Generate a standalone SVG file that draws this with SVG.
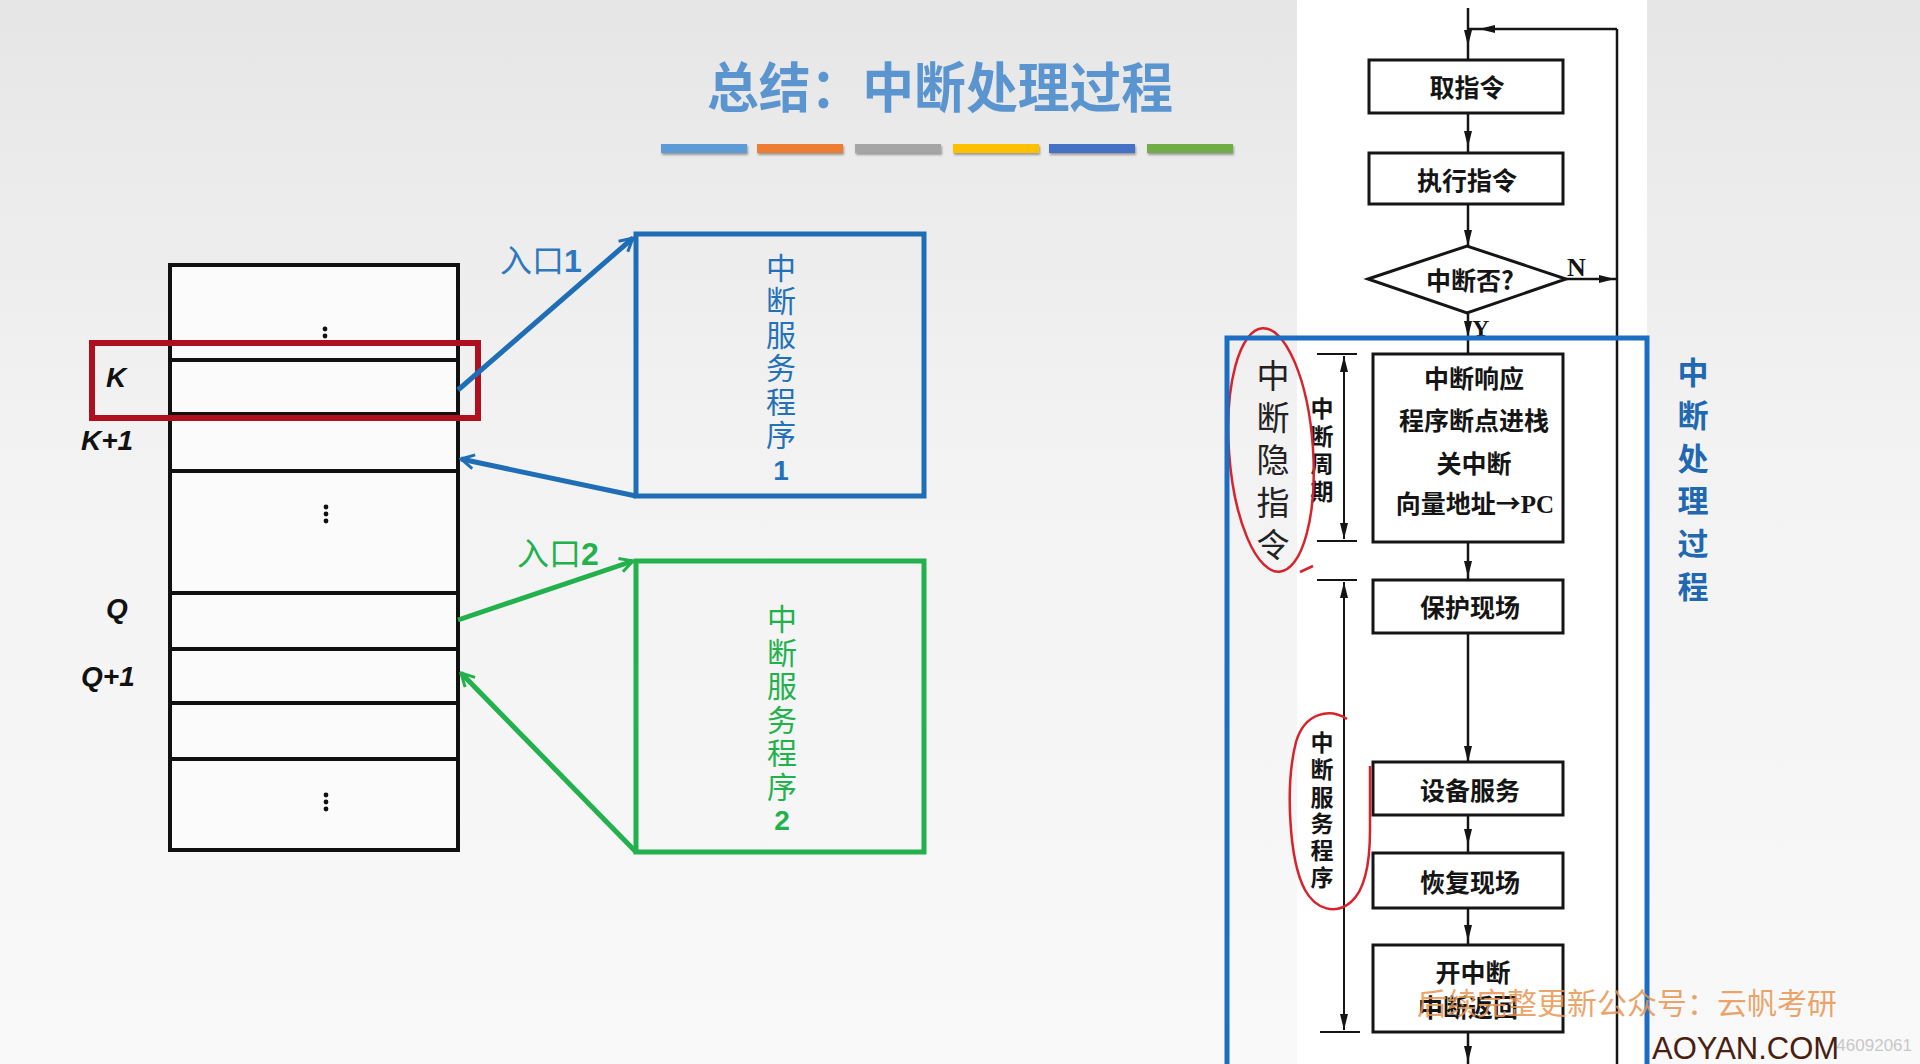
<svg xmlns="http://www.w3.org/2000/svg" width="1920" height="1064" viewBox="0 0 1920 1064">
<defs>
<linearGradient id="bg" x1="0" y1="0" x2="0" y2="1">
<stop offset="0" stop-color="#e6e6e6"/>
<stop offset="0.4" stop-color="#f2f2f2"/>
<stop offset="1" stop-color="#f9f9f9"/>
</linearGradient>
<filter id="sh" x="-10%" y="-60%" width="120%" height="260%"><feDropShadow dx="1" dy="2" stdDeviation="1.2" flood-color="#000" flood-opacity="0.35"/></filter>
<marker id="fa" markerUnits="userSpaceOnUse" viewBox="0 0 16 8" refX="16" refY="4" markerWidth="16" markerHeight="8" orient="auto-start-reverse"><path d="M0,0 L16,4 L0,8 z" fill="#151515"/></marker>
<marker id="ab" markerUnits="userSpaceOnUse" viewBox="0 0 20 20" refX="18" refY="10" markerWidth="20" markerHeight="20" orient="auto"><path d="M5,3 L18,10 L5,17" fill="none" stroke="#1f6eb5" stroke-width="3"/></marker>
<marker id="ag" markerUnits="userSpaceOnUse" viewBox="0 0 20 20" refX="18" refY="10" markerWidth="20" markerHeight="20" orient="auto"><path d="M5,3 L18,10 L5,17" fill="none" stroke="#22b14c" stroke-width="3"/></marker>
</defs>
<style>
.cjk{font-family:"Noto Sans CJK SC","Noto Sans",sans-serif}
.lat{font-family:"Liberation Sans",Arial,sans-serif}
.ser{font-family:"Liberation Serif","Times New Roman",serif}
.stk{fill:none;stroke:#111;stroke-width:4}
.fc{fill:#fff;stroke:#151515;stroke-width:3}
.ft{font-family:"Noto Sans CJK SC",sans-serif;font-weight:700;font-size:25px;fill:#151515;text-anchor:middle}
.fl{stroke:#151515;stroke-width:2.5;fill:none}
.dl{stroke:#151515;stroke-width:2;fill:none}
.lbl{font-family:"Liberation Sans",Arial,sans-serif;font-weight:700;font-style:italic;font-size:28px;fill:#111}
.blue{fill:#2372b9}
.green{fill:#22b14c}
.vt{font-family:"Noto Sans CJK SC",sans-serif;font-size:30px;text-anchor:middle}
.red{fill:none;stroke:#d8222c;stroke-width:2.5}
</style>

<rect x="0" y="0" width="1920" height="1064" fill="url(#bg)"/>
<rect x="1297" y="0" width="350" height="1064" fill="#ffffff"/>

<g id="title">
<text x="707" y="108" class="cjk" font-size="54" font-weight="700" fill="#5b95d0" textLength="466" lengthAdjust="spacingAndGlyphs">总结：中断处理过程</text>
<g filter="url(#sh)">
<rect x="661" y="144" width="86" height="9" fill="#5B9BD5"/>
<rect x="757" y="144" width="86" height="9" fill="#ED7D31"/>
<rect x="855" y="144" width="86" height="9" fill="#A5A5A5"/>
<rect x="953" y="144" width="86" height="9" fill="#FFC000"/>
<rect x="1049" y="144" width="86" height="9" fill="#4472C4"/>
<rect x="1147" y="144" width="86" height="9" fill="#70AD47"/>
</g>
</g>

<g id="memory">
<rect x="170" y="265" width="288" height="585" fill="#fbfbfb" stroke="#111" stroke-width="4"/>
<path class="stk" d="M170,360 H458 M170,414 H458 M170,471 H458 M170,593 H458 M170,649 H458 M170,703 H458 M170,759 H458"/>
<g fill="#111">
<circle cx="325" cy="329" r="2.4"/><circle cx="325" cy="336" r="2.4"/><circle cx="325" cy="343" r="2.4"/>
<circle cx="326" cy="507" r="2.4"/><circle cx="326" cy="514" r="2.4"/><circle cx="326" cy="521" r="2.4"/>
<circle cx="326" cy="795" r="2.4"/><circle cx="326" cy="802" r="2.4"/><circle cx="326" cy="809" r="2.4"/>
</g>
<text x="106" y="387" class="lbl">K</text>
<text x="81" y="450" class="lbl">K+1</text>
<text x="106" y="618" class="lbl">Q</text>
<text x="81" y="686" class="lbl">Q+1</text>
<rect x="92" y="343" width="386" height="75" fill="none" stroke="#ae1020" stroke-width="6"/>
</g>

<g id="isr1">
<rect x="636" y="234" width="288" height="262" fill="none" stroke="#1f6eb5" stroke-width="5"/>
<text class="vt blue">
<tspan x="781" y="279">中</tspan><tspan x="781" y="312">断</tspan><tspan x="781" y="346">服</tspan><tspan x="781" y="379">务</tspan><tspan x="781" y="413">程</tspan><tspan x="781" y="446">序</tspan>
</text>
<text x="781" y="480" class="lat blue" font-size="28" font-weight="700" text-anchor="middle">1</text>
</g>

<g id="isr2">
<rect x="636" y="561" width="288" height="291" fill="none" stroke="#22b14c" stroke-width="5"/>
<text class="vt green">
<tspan x="782" y="630">中</tspan><tspan x="782" y="664">断</tspan><tspan x="782" y="697">服</tspan><tspan x="782" y="731">务</tspan><tspan x="782" y="764">程</tspan><tspan x="782" y="798">序</tspan>
</text>
<text x="782" y="830" class="lat green" font-size="28" font-weight="700" text-anchor="middle">2</text>
</g>

<g id="left-connectors">
<path d="M458,390 L633,238" fill="none" stroke="#1f6eb5" stroke-width="5" marker-end="url(#ab)"/>
<path d="M636,496 L461,459" fill="none" stroke="#1f6eb5" stroke-width="5" marker-end="url(#ab)"/>
<path d="M458,620 L633,561" fill="none" stroke="#22b14c" stroke-width="5" marker-end="url(#ag)"/>
<path d="M636,852 L461,673" fill="none" stroke="#22b14c" stroke-width="5" marker-end="url(#ag)"/>
<text x="500" y="272" class="cjk" font-size="32" fill="#2e78bf">入口<tspan class="lat" font-weight="700">1</tspan></text>
<text x="517" y="565" class="cjk" font-size="32" fill="#22b14c">入口<tspan class="lat" font-weight="700">2</tspan></text>
</g>

<g id="flow-connectors">
<path class="fl" d="M1468,8 L1468,46 L1468,60" marker-mid="url(#fa)"/>
<path class="fl" d="M1617,29 L1479,29 L1468,29" marker-mid="url(#fa)"/>
<path class="fl" d="M1617,29 L1617,1064"/>
<path class="fl" d="M1468,113 L1468,147 L1468,153" marker-mid="url(#fa)"/>
<path class="fl" d="M1468,204 L1468,246" marker-end="url(#fa)"/>
<path class="fl" d="M1566,279 L1615,279 L1617,279" marker-mid="url(#fa)"/>
<path class="fl" d="M1468,313 L1468,337 L1468,354" marker-mid="url(#fa)"/>
<path class="fl" d="M1468,542 L1468,577 L1468,580" marker-mid="url(#fa)"/>
<path class="fl" d="M1468,633 L1468,762" marker-end="url(#fa)"/>
<path class="fl" d="M1468,815 L1468,845 L1468,853" marker-mid="url(#fa)"/>
<path class="fl" d="M1468,908 L1468,941 L1468,945" marker-mid="url(#fa)"/>
<path class="fl" d="M1468,1032 L1468,1062 L1468,1064" marker-mid="url(#fa)"/>
<path class="dl" d="M1344,356 L1344,539" marker-start="url(#fa)" marker-end="url(#fa)"/>
<path class="dl" d="M1317,354 H1357 M1317,541 H1357"/>
<path class="dl" d="M1344,582 L1344,1030" marker-start="url(#fa)" marker-end="url(#fa)"/>
<path class="dl" d="M1317,580 H1357 M1320,1032 H1360"/>
</g>

<g id="fetch">
<rect class="fc" x="1369" y="60" width="194" height="53"/>
<text class="ft" x="1467" y="97">取指令</text>
</g>
<g id="execute">
<rect class="fc" x="1369" y="153" width="194" height="51"/>
<text class="ft" x="1467" y="190">执行指令</text>
</g>
<g id="decision">
<polygon class="fc" points="1368,279 1467,246 1566,279 1467,313"/>
<text class="ft" x="1470" y="290" font-size="26">中断否?</text>
<text x="1567" y="276" class="ser" font-size="26" font-weight="700" fill="#151515">N</text>
<text x="1472" y="336" class="ser" font-size="24" font-weight="700" fill="#151515">Y</text>
</g>
<g id="response">
<rect class="fc" x="1373" y="354" width="190" height="188"/>
<text class="ft" x="1474" y="388">中断响应</text>
<text class="ft" x="1474" y="430">程序断点进栈</text>
<text class="ft" x="1474" y="473">关中断</text>
<text class="ft" x="1475" y="513">向量地址→<tspan class="ser">PC</tspan></text>
</g>
<g id="save">
<rect class="fc" x="1373" y="580" width="190" height="53"/>
<text class="ft" x="1470" y="617">保护现场</text>
</g>
<g id="service">
<rect class="fc" x="1373" y="762" width="190" height="53"/>
<text class="ft" x="1470" y="800">设备服务</text>
</g>
<g id="restore">
<rect class="fc" x="1373" y="853" width="190" height="55"/>
<text class="ft" x="1470" y="892">恢复现场</text>
</g>
<g id="return">
<rect class="fc" x="1373" y="945" width="190" height="87"/>
<text class="ft" x="1473" y="982">开中断</text>
<text class="ft" x="1468" y="1017">中断返回</text>
</g>

<g id="cycle-label">
<text class="cjk" font-size="23" font-weight="700" fill="#151515" text-anchor="middle">
<tspan x="1322" y="417">中</tspan><tspan x="1322" y="445">断</tspan><tspan x="1322" y="472">周</tspan><tspan x="1322" y="500">期</tspan>
</text>
</g>
<g id="isr-label">
<text class="cjk" font-size="23" font-weight="700" fill="#151515" text-anchor="middle">
<tspan x="1322" y="751">中</tspan><tspan x="1322" y="778">断</tspan><tspan x="1322" y="806">服</tspan><tspan x="1322" y="832">务</tspan><tspan x="1322" y="859">程</tspan><tspan x="1322" y="886">序</tspan>
</text>
</g>
<g id="hidden-instr">
<text class="cjk" font-size="33" fill="#222" text-anchor="middle">
<tspan x="1273" y="388">中</tspan><tspan x="1273" y="430">断</tspan><tspan x="1273" y="472">隐</tspan><tspan x="1273" y="515">指</tspan><tspan x="1273" y="557">令</tspan>
</text>
<ellipse class="red" cx="1271" cy="450" rx="42" ry="122" transform="rotate(-4 1271 450)"/>
<path class="red" d="M1300,572 L1313,566"/>
</g>
<path id="isr-mark" class="red" d="M1347,719 C1330,708 1305,712 1296,742 C1285,785 1289,860 1305,890 C1316,910 1336,915 1351,902 C1366,889 1370,860 1370,830 L1370,766"/>

<rect id="process-frame" x="1227" y="338" width="420" height="760" fill="none" stroke="#1b6ec2" stroke-width="5"/>

<g id="process-label">
<text class="cjk" font-size="31" font-weight="700" fill="#2068b0" text-anchor="middle">
<tspan x="1693" y="384">中</tspan><tspan x="1693" y="427">断</tspan><tspan x="1693" y="470">处</tspan><tspan x="1693" y="512">理</tspan><tspan x="1693" y="555">过</tspan><tspan x="1693" y="598">程</tspan>
</text>
</g>

<g id="watermark">
<text x="1912" y="1051" class="lat" font-size="17" fill="#c8c8c8" text-anchor="end">46092061</text>
<text x="1652" y="1059" class="lat" font-size="31" fill="#4a1e10">AOYAN.COM</text>
<text x="1417" y="1014" class="cjk" font-size="30" fill="#e8954f" fill-opacity="0.85">后续完整更新公众号：云帆考研</text>
</g>
</svg>
